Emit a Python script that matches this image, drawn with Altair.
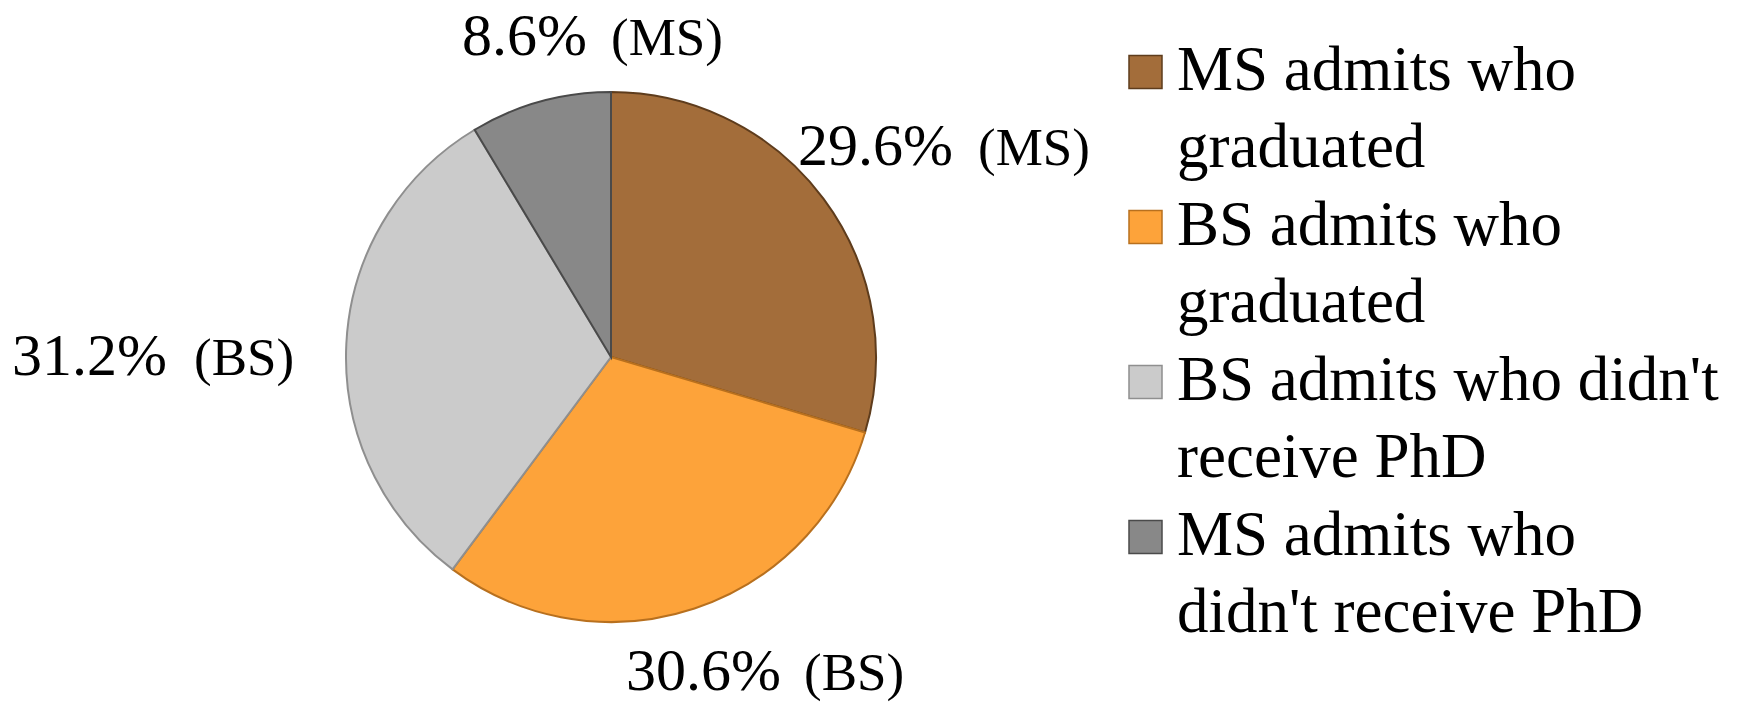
import altair as alt
import pandas as pd

# ---- data ----
categories = [
    "MS admits who graduated",
    "BS admits who graduated",
    "BS admits who didn't receive PhD",
    "MS admits who didn't receive PhD",
]
values = [29.6, 30.6, 31.2, 8.6]
tags = ["(MS)", "(BS)", "(BS)", "(MS)"]
legend_lines = [
    "MS admits who\ngraduated",
    "BS admits who\ngraduated",
    "BS admits who didn't\nreceive PhD",
    "MS admits who\ndidn't receive PhD",
]

# ---- styling / layout (not data) ----
colors = ["#A36D3A", "#FDA33A", "#CBCBCB", "#888888"]
edge_colors = ["#5E3C1C", "#B8701E", "#8F8F8F", "#4A4A4A"]
FONT = "Liberation Serif"
OFF = 8  # page margin
CX, CY, R = 611 - OFF, 357 - OFF, 265
# label anchors (page px): right edge of percentage, left edge of tag, baseline
pct_right = [953, 781, 167, 587]
tag_left = [978, 804, 194, 611]
baselines = [165, 690, 375, 55]

df = pd.DataFrame({
    "category": categories,
    "value": values,
    "idx": list(range(len(categories))),
    "pct": [f"{v}%" for v in values],
    "tag": tags,
    "legend": legend_lines,
    "pct_x": [x - OFF for x in pct_right],
    "tag_x": [x - OFF for x in tag_left],
    "base_y": [y - OFF for y in baselines],
})

color_scale = alt.Scale(domain=categories, range=colors)
edge_scale = alt.Scale(domain=categories, range=edge_colors)

base = alt.Chart(df)

pie = base.mark_arc(outerRadius=R, strokeWidth=2).encode(
    theta=alt.Theta("value:Q", stack=True),
    order=alt.Order("idx:Q"),
    color=alt.Color("category:N", scale=color_scale, legend=None),
    stroke=alt.Stroke("category:N", scale=edge_scale, legend=None),
    x=alt.value(CX),
    y=alt.value(CY),
)

pct_text = base.mark_text(
    font=FONT, fontSize=60, align="right", baseline="alphabetic", color="black"
).encode(
    x=alt.X("pct_x:Q", scale=None),
    y=alt.Y("base_y:Q", scale=None),
    text="pct:N",
)

tag_text = base.mark_text(
    font=FONT, fontSize=53, align="left", baseline="alphabetic", color="black"
).encode(
    x=alt.X("tag_x:Q", scale=None),
    y=alt.Y("base_y:Q", scale=None),
    text="tag:N",
)

leg_y = alt.Y(
    "category:N",
    scale=alt.Scale(type="point", domain=categories, range=[72 - OFF, 537 - OFF], padding=0),
    axis=None,
)

leg_sq = base.mark_square(size=33 * 33, opacity=1, strokeWidth=1.5).encode(
    x=alt.value(1145.5 - OFF),
    y=leg_y,
    color=alt.Color("category:N", scale=color_scale, legend=None),
    stroke=alt.Stroke("category:N", scale=edge_scale, legend=None),
)

leg_text = base.mark_text(
    font=FONT, fontSize=63, align="left", baseline="alphabetic",
    lineBreak="\n", lineHeight=77, dy=18, color="black",
).encode(
    x=alt.value(1177 - OFF),
    y=leg_y,
    text="legend:N",
)

chart = alt.layer(pie, pct_text, tag_text, leg_sq, leg_text).properties(
    width=1721, height=696, padding=0, autosize="none", background="white"
).configure_view(stroke=None)

chart.save("out.html", embed_options={"renderer": "svg", "actions": False})
